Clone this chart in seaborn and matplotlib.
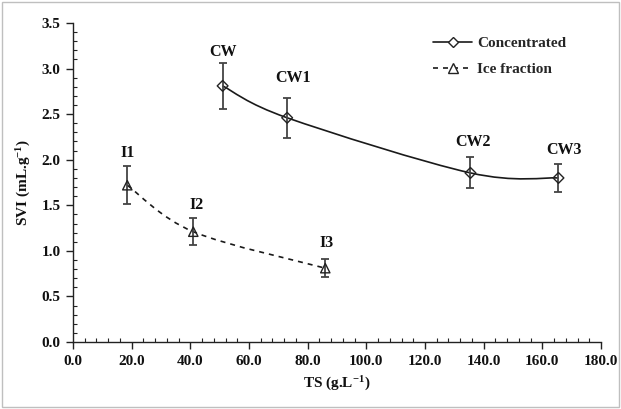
import numpy as np
import matplotlib
matplotlib.use("Agg")
import matplotlib.pyplot as plt
import seaborn as sns
import pandas as pd
from matplotlib.path import Path
from matplotlib.patches import PathPatch, Rectangle
from matplotlib.lines import Line2D
from matplotlib.ticker import MultipleLocator, FormatStrFormatter

# ---- data ----
conc_labels = ["CW", "CW1", "CW2", "CW3"]
conc_x = [51.0, 73.0, 135.5, 165.5]
conc_y = [2.81, 2.46, 1.855, 1.80]
conc_err = [0.25, 0.22, 0.17, 0.15]

ice_labels = ["I1", "I2", "I3"]
ice_x = [18.5, 41.0, 86.0]
ice_y = [1.72, 1.21, 0.81]
ice_err = [0.21, 0.15, 0.10]

# label offsets in pixels (dx, dy) – styling only
conc_lab_off = [(0, 34), (6, 40), (3, 31), (5, 28)]
ice_lab_off = [(0, 32), (3, 27), (1, 25)]

sns.set_theme(style="white")
plt.rcParams["font.family"] = ["Liberation Serif", "DejaVu Serif"]
plt.rcParams["mathtext.fontset"] = "custom"
plt.rcParams["mathtext.rm"] = "Liberation Serif:bold"
plt.rcParams["mathtext.bf"] = "Liberation Serif:bold"
plt.rcParams["mathtext.default"] = "bf"

fig = plt.figure(figsize=(6.21, 4.09), dpi=100)
fig.patches.append(Rectangle((0.004, 0.006), 0.992, 0.988, transform=fig.transFigure,
                             fill=False, edgecolor="#bfbfbf", lw=1.0))
ax = fig.add_axes([0.1176, 0.1638, 0.8502, 0.78])

df_c = pd.DataFrame({"x": conc_x, "y": conc_y, "s": "Concentrated"})
df_i = pd.DataFrame({"x": ice_x, "y": ice_y, "s": "Ice fraction"})


def smooth_path(xs, ys):
    pts = np.column_stack([xs, ys])
    n = len(pts)
    verts = [pts[0]]
    codes = [Path.MOVETO]
    for i in range(n - 1):
        p0 = pts[i - 1] if i > 0 else pts[i]
        p1 = pts[i]
        p2 = pts[i + 1]
        p3 = pts[i + 2] if i + 2 < n else pts[i + 1]
        c1 = p1 + (p2 - p0) / 6.0
        c2 = p2 - (p3 - p1) / 6.0
        verts += [c1, c2, p2]
        codes += [Path.CURVE4] * 3
    return Path(verts, codes)


ax.add_patch(PathPatch(smooth_path(conc_x, conc_y), fill=False, edgecolor="#1a1a1a", lw=1.2, zorder=2))
ax.add_patch(PathPatch(smooth_path(ice_x, ice_y), fill=False, edgecolor="#1a1a1a", lw=1.2,
                       linestyle=(0, (3, 3)), zorder=2))

ax.errorbar(conc_x, conc_y, yerr=conc_err, fmt="none", ecolor="#444444", elinewidth=1.3,
            capsize=3, capthick=1.3, zorder=3)
ax.errorbar(ice_x, ice_y, yerr=ice_err, fmt="none", ecolor="#444444", elinewidth=1.3,
            capsize=3, capthick=1.3, zorder=3)

sns.scatterplot(data=df_c, x="x", y="y", marker="D", s=30, facecolor="none",
                edgecolor="#222222", linewidth=1.0, ax=ax, zorder=4, legend=False)
sns.scatterplot(data=df_i, x="x", y="y", marker="^", s=45, facecolor="none",
                edgecolor="#222222", linewidth=1.0, ax=ax, zorder=4, legend=False)

for lx, ly, t, (dx, dy) in zip(conc_x, conc_y, conc_labels, conc_lab_off):
    ax.annotate(t, (lx, ly), xytext=(dx * 0.72, dy * 0.72), textcoords="offset points", ha="center",
                va="center", fontsize=11.5, fontweight="bold", color="#111111")
for lx, ly, t, (dx, dy) in zip(ice_x, ice_y, ice_labels, ice_lab_off):
    ax.annotate(t, (lx, ly), xytext=(dx * 0.72, dy * 0.72), textcoords="offset points", ha="center",
                va="center", fontsize=11.5, fontweight="bold", color="#111111")

ax.set_xlim(0, 180)
ax.set_ylim(0, 3.5)
ax.xaxis.set_major_locator(MultipleLocator(20))
ax.xaxis.set_minor_locator(MultipleLocator(4))
ax.yaxis.set_major_locator(MultipleLocator(0.5))
ax.yaxis.set_minor_locator(MultipleLocator(0.1))
ax.xaxis.set_major_formatter(FormatStrFormatter("%.1f"))
ax.yaxis.set_major_formatter(FormatStrFormatter("%.1f"))
for s in ["top", "right"]:
    ax.spines[s].set_visible(False)
for s in ["left", "bottom"]:
    ax.spines[s].set_color("#222222")
    ax.spines[s].set_linewidth(1.0)
ax.tick_params(which="major", direction="out", length=5, width=1.0, color="#222222",
               labelsize=11, pad=4, labelcolor="#111111")
ax.tick_params(which="minor", direction="in", length=3, width=0.8, color="#222222")
ax.tick_params(axis="both", which="both", bottom=True, left=True)
for lab in ax.get_xticklabels() + ax.get_yticklabels():
    lab.set_fontweight("bold")

ax.set_xlabel(r"TS (g.L$^{-1}$)", fontsize=11, fontweight="bold", labelpad=5, color="#111111")
ax.set_ylabel(r"SVI (mL.g$^{-1}$)", fontsize=11, fontweight="bold", labelpad=6, color="#111111")

handles = [
    Line2D([], [], color="#1a1a1a", lw=1.2, marker="D", markersize=5.5, markerfacecolor="white",
           markeredgecolor="#222222"),
    Line2D([], [], color="#1a1a1a", lw=1.2, linestyle=(0, (3, 3)), marker="^", markersize=7,
           markerfacecolor="white", markeredgecolor="#222222"),
]
ax.legend(handles, ["Concentrated", "Ice fraction"], loc="upper right", bbox_to_anchor=(0.96, 1.0),
          frameon=False, prop={"family": "Liberation Serif", "weight": "bold", "size": 11},
          handlelength=2.6, labelspacing=0.8, handletextpad=0.3)

fig.savefig("out.png", dpi=100)
